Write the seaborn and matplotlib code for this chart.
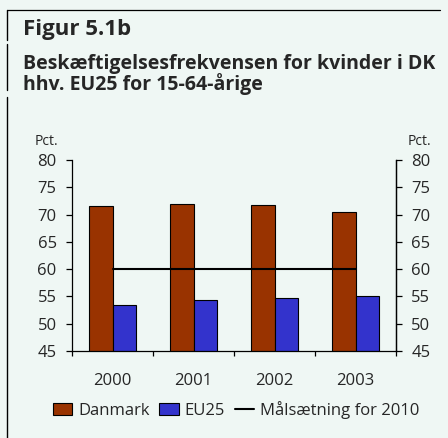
import matplotlib
matplotlib.use("Agg")
import matplotlib.pyplot as plt
import matplotlib.lines as mlines
import numpy as np
import pandas as pd
import seaborn as sns

years = ["2000", "2001", "2002", "2003"]
danmark = [71.6, 72.0, 71.7, 70.5]
eu25 = [53.5, 54.3, 54.7, 55.1]
target = [60, 60, 60, 60]
series_names = ["Danmark", "EU25"]
target_label = "Målsætning for 2010"
yticks = [45, 50, 55, 60, 65, 70, 75, 80]

title1 = "Figur 5.1b"
title2 = "Beskæftigelsesfrekvensen for kvinder i DK"
title3 = "hhv. EU25 for 15-64-årige"

BG = "#eff7f4"
colors = {"Danmark": "#993300", "EU25": "#3333cc"}

sns.set_theme(style="white")
plt.rcParams["font.family"] = ["Open Sans", "DejaVu Sans"]

df = pd.DataFrame({
    "year": years * 2,
    "value": danmark + eu25,
    "series": [series_names[0]] * len(years) + [series_names[1]] * len(years),
})

W, H = 448, 438
fig = plt.figure(figsize=(W / 100, H / 100), dpi=100, facecolor=BG)
ax = fig.add_axes([72 / W, 1 - 351 / H, (396 - 72) / W, (351 - 160) / H])
ax.set_facecolor(BG)

sns.barplot(data=df, x="year", y="value", hue="series", palette=colors,
            width=0.58, edgecolor="black", linewidth=0.8, ax=ax, saturation=1)
xpos = np.arange(len(years))
ax.plot(xpos, target, color="black", lw=1.5, label=target_label)

ax.set_ylim(45, 80)
ax.set_xlim(-0.5, len(years) - 0.5)
ax.set_yticks(yticks)
ax.set_xlabel("")
ax.set_ylabel("")
handles, labels = ax.get_legend_handles_labels()
if ax.get_legend():
    ax.get_legend().remove()

ax.spines["top"].set_visible(False)
for s in ["left", "right", "bottom"]:
    ax.spines[s].set_visible(True)
    ax.spines[s].set_color("black")
    ax.spines[s].set_linewidth(0.9)

ax.tick_params(axis="y", which="major", direction="out", length=4, width=0.9,
               color="black", labelsize=12, pad=7, left=True)
ax.tick_params(axis="x", which="major", length=0, labelsize=12, pad=16)
ax.set_xticks(np.arange(-0.5, len(years), 1.0), minor=True)
ax.tick_params(axis="x", which="minor", direction="out", length=3.5, width=0.9,
               color="black", bottom=True)

ax2 = ax.twinx()
ax2.set_ylim(45, 80)
ax2.set_yticks(yticks)
ax2.tick_params(axis="y", direction="out", length=4, width=0.9, color="black",
                labelsize=12, pad=7)
for s in ["top", "left", "bottom"]:
    ax2.spines[s].set_visible(False)
ax2.spines["right"].set_color("black")
ax2.spines["right"].set_linewidth(0.9)

def fy(y):
    return 1 - y / H

fig.text(35 / W, fy(145), "Pct.", fontsize=10, ha="left", va="baseline")
fig.text(408 / W, fy(145), "Pct.", fontsize=10, ha="left", va="baseline")

fig.text(23 / W, fy(35), title1, fontsize=16, fontweight="bold", ha="left", va="baseline")
fig.text(23 / W, fy(90), title2 + "\n" + title3, fontsize=14, fontweight="bold",
         ha="left", va="baseline", linespacing=0.97)

# frame lines
fig.add_artist(mlines.Line2D([7 / W, 440 / W], [fy(10), fy(10)], color="black", lw=0.9))
for a, b in [(10, 40), (44, 90), (97, 438)]:
    fig.add_artist(mlines.Line2D([7 / W, 7 / W], [fy(a), fy(b)], color="black", lw=1.0))

fig.legend(handles, labels, loc="center", bbox_to_anchor=(236 / W, fy(410)), ncol=3,
           frameon=False, fontsize=12, handlelength=1.15, handleheight=0.75,
           handletextpad=0.35, columnspacing=0.6, borderaxespad=0)

fig.savefig("out.png", dpi=100, facecolor=BG)
